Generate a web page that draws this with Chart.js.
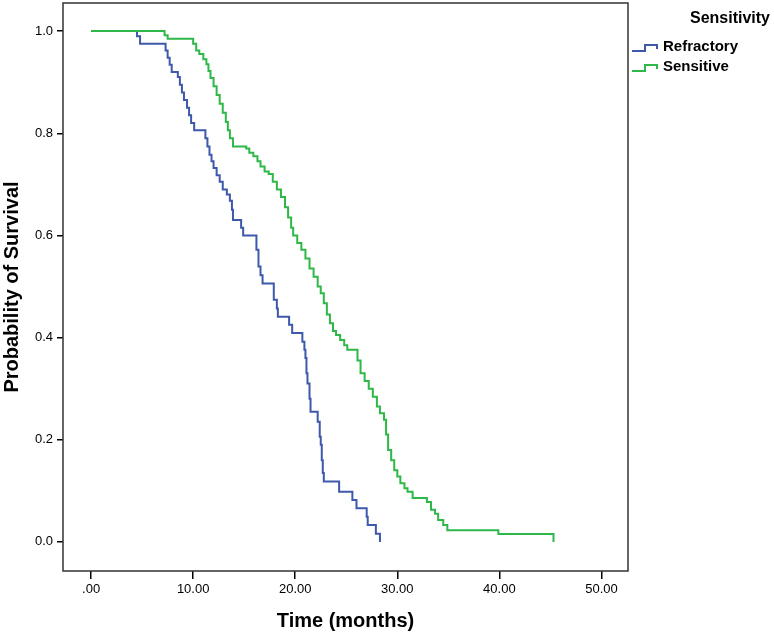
<!DOCTYPE html>
<html>
<head>
<meta charset="utf-8">
<script src="https://cdn.jsdelivr.net/npm/chart.js@4.4.1/dist/chart.umd.min.js"></script>
<style>
  html, body { margin: 0; padding: 0; background: #fff; }
  #wrap { width: 774px; height: 634px; position: relative; }
</style>
</head>
<body>
<div id="wrap"><canvas id="km"></canvas></div>
<script>
// Kaplan-Meier curves: time (months) and survival after each step
const refractoryTime = [0, 4.5, 4.8, 7.3, 7.5, 7.7, 7.9, 8.5, 8.7, 8.9, 9.1, 9.4, 9.6, 9.8, 10.1,
  11.2, 11.4, 11.6, 11.8, 12.0, 12.3, 12.6, 12.9, 13.3, 13.6, 13.8, 13.9, 14.7, 14.9,
  16.2, 16.4, 16.6, 16.8, 17.9, 18.2, 18.3, 19.4, 19.7, 20.7, 20.9, 21.0, 21.1, 21.2, 21.4, 21.5,
  22.2, 22.4, 22.5, 22.6, 22.7, 22.8, 24.3, 25.6, 26.0, 27.0, 27.1, 27.9, 28.3];
const refractorySurv = [1.0, 0.99, 0.975, 0.962, 0.948, 0.934, 0.92, 0.91, 0.895, 0.88, 0.865, 0.85, 0.835, 0.82, 0.806,
  0.79, 0.774, 0.758, 0.745, 0.732, 0.718, 0.705, 0.69, 0.68, 0.668, 0.65, 0.63, 0.615, 0.6,
  0.572, 0.539, 0.522, 0.506, 0.474, 0.457, 0.441, 0.425, 0.409, 0.392, 0.376, 0.36, 0.33, 0.31, 0.28, 0.255,
  0.235, 0.206, 0.19, 0.16, 0.135, 0.118, 0.098, 0.082, 0.066, 0.049, 0.033, 0.016, 0.0];

const sensitiveTime = [0, 7.2, 7.5, 10.0, 10.3, 10.6, 11.0, 11.3, 11.5, 11.7, 12.0, 12.3, 12.6, 12.9, 13.2, 13.4, 13.6, 13.9,
  15.2, 15.5, 15.9, 16.3, 16.6, 17.0, 17.4, 17.8, 18.2, 18.6, 19.0, 19.3, 19.6, 19.8, 20.2, 20.6, 21.0, 21.4, 21.8,
  22.2, 22.5, 22.8, 23.1, 23.4, 23.7, 24.0, 24.4, 24.8, 25.1, 26.1, 26.4, 26.8, 27.2, 27.6, 28.0, 28.3, 28.7, 28.9,
  29.1, 29.4, 29.7, 30.0, 30.3, 30.7, 31.0, 31.5, 32.9, 33.3, 33.7, 34.0, 34.5, 34.9, 39.9, 45.3];
const sensitiveSurv = [1.0, 0.992, 0.985, 0.975, 0.962, 0.955, 0.945, 0.935, 0.922, 0.908, 0.892, 0.875, 0.858, 0.84, 0.822, 0.806, 0.79, 0.774,
  0.77, 0.762, 0.755, 0.745, 0.735, 0.725, 0.72, 0.705, 0.69, 0.675, 0.655, 0.635, 0.615, 0.6, 0.585, 0.572, 0.555, 0.535, 0.519,
  0.5, 0.487, 0.467, 0.445, 0.428, 0.413, 0.405, 0.395, 0.385, 0.376, 0.355, 0.33, 0.315, 0.3, 0.284, 0.265, 0.252, 0.239, 0.21,
  0.18, 0.16, 0.14, 0.128, 0.115, 0.105, 0.098, 0.086, 0.078, 0.063, 0.055, 0.043, 0.033, 0.023, 0.0156, 0.0];

const xTickValues = [0, 10, 20, 30, 40, 50];
const yTickValues = [0, 0.2, 0.4, 0.6, 0.8, 1.0];

const blue = '#3e58ac';
const green = '#2eb848';

function pts(t, s) { return t.map((v, i) => ({ x: v, y: s[i] })); }

// box round the plot area
const framePlugin = {
  id: 'frame',
  afterDraw(chart) {
    const { ctx, chartArea: a } = chart;
    ctx.save();
    ctx.strokeStyle = '#333';
    ctx.lineWidth = 1.5;
    ctx.strokeRect(a.left, a.top, a.right - a.left, a.bottom - a.top);
    ctx.restore();
  }
};

// SPSS style legend on the right, with step icons
const legendPlugin = {
  id: 'kmLegend',
  afterDraw(chart) {
    const ctx = chart.ctx;
    ctx.save();
    ctx.fillStyle = '#000';
    ctx.textBaseline = 'middle';
    ctx.font = 'bold 16px "Liberation Sans", Arial, sans-serif';
    ctx.textAlign = 'right';
    ctx.fillText('Sensitivity', 770, 19);
    ctx.font = 'bold 15px "Liberation Sans", Arial, sans-serif';
    ctx.textAlign = 'left';
    const rows = [47, 67];
    chart.data.datasets.forEach((ds, i) => {
      const y = rows[i];
      ctx.strokeStyle = ds.borderColor;
      ctx.lineWidth = 2;
      ctx.beginPath();
      ctx.moveTo(632, y + 4);
      ctx.lineTo(645, y + 4);
      ctx.lineTo(645, y - 2);
      ctx.lineTo(657, y - 2);
      ctx.lineTo(657, y + 2);
      ctx.stroke();
      ctx.fillText(ds.label, 663, y);
    });
    ctx.restore();
  }
};

new Chart(document.getElementById('km'), {
  type: 'line',
  data: {
    datasets: [
      { label: 'Refractory', data: pts(refractoryTime, refractorySurv), borderColor: blue, borderWidth: 2,
        stepped: 'before', pointRadius: 0, fill: false, order: 1 },
      { label: 'Sensitive', data: pts(sensitiveTime, sensitiveSurv), borderColor: green, borderWidth: 2,
        stepped: 'before', pointRadius: 0, fill: false, order: 0 }
    ]
  },
  options: {
    responsive: true,
    maintainAspectRatio: false,
    animation: false,
    layout: { padding: { top: 3, right: 146, left: 0, bottom: 0 } },
    plugins: { legend: { display: false }, tooltip: { enabled: false } },
    scales: {
      x: {
        type: 'linear', min: -2.75, max: 52.6,
        afterBuildTicks: s => { s.ticks = xTickValues.map(v => ({ value: v })); },
        afterFit: s => { s.height = 63; s.paddingLeft = 0; s.paddingRight = 0; },
        grid: { drawOnChartArea: false, tickLength: 8, color: '#000', lineWidth: 1.5 },
        border: { display: false },
        ticks: { color: '#000', padding: 3, maxRotation: 0,
          font: { family: '"Liberation Sans", Arial', size: 13 },
          callback: v => v === 0 ? '.00' : v.toFixed(2) },
        title: { display: true, text: 'Time (months)', color: '#000', padding: { top: 0, bottom: 1 },
          font: { family: '"Liberation Sans", Arial', size: 20, weight: 'bold' } }
      },
      y: {
        min: -0.057, max: 1.055,
        afterBuildTicks: s => { s.ticks = yTickValues.map(v => ({ value: v })); },
        afterFit: s => { s.width = 63; s.paddingTop = 0; s.paddingBottom = 0; },
        grid: { drawOnChartArea: false, tickLength: 6, color: '#000', lineWidth: 1.5 },
        border: { display: false },
        ticks: { color: '#000', padding: 4,
          font: { family: '"Liberation Sans", Arial', size: 13 },
          callback: v => v.toFixed(1) },
        title: { display: true, text: 'Probability of Survival', color: '#000', padding: { top: 0, bottom: 0 },
          font: { family: '"Liberation Sans", Arial', size: 20, weight: 'bold' } }
      }
    }
  },
  plugins: [framePlugin, legendPlugin]
});
</script>
</body>
</html>
